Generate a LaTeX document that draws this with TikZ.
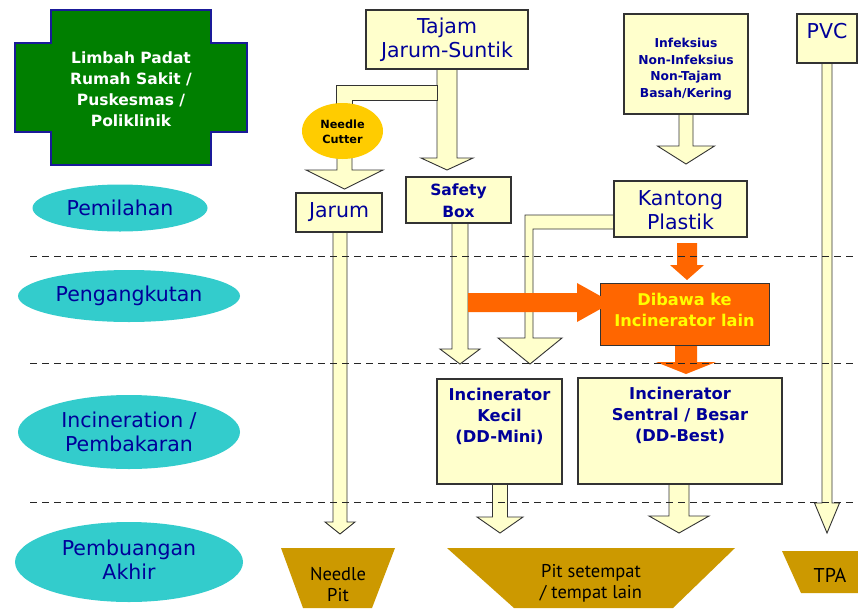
\documentclass[tikz,border=0pt]{standalone}
\usepackage{fontspec}
\setmainfont{DejaVu Sans}
\newfontfamily\narrowf{PT Sans}
\usetikzlibrary{shapes.geometric}
\definecolor{boxfill}{HTML}{FFFFCC}
\definecolor{navy}{HTML}{000099}
\definecolor{crossgreen}{HTML}{007F00}
\definecolor{crossline}{HTML}{1A1A99}
\definecolor{cyanell}{HTML}{33CCCC}
\definecolor{orng}{HTML}{FF6600}
\definecolor{gold}{HTML}{CC9900}
\definecolor{cutterc}{HTML}{FFCC00}
\definecolor{lineg}{HTML}{333333}
\definecolor{yel}{HTML}{FFFF00}
% [style]{xc}{ytop}{shaft half}{head half}{head base y}{tip y}
\newcommand\bdown[7][blk]{\filldraw[#1] (#2-#4,#3) -- (#2-#4,#6) -- (#2-#5,#6) -- (#2,#7) -- (#2+#5,#6) -- (#2+#4,#6) -- (#2+#4,#3) -- cycle;}
\begin{document}
\begin{tikzpicture}[x=1pt,y=-1pt,
  box/.style={draw=lineg, fill=boxfill, line width=1.2pt, inner sep=0pt},
  blk/.style={draw=lineg, fill=boxfill, line width=0.9pt, line join=miter},
  oarr/.style={fill=orng, draw=none},
  ell/.style={ellipse, fill=cyanell, draw=none, inner sep=0pt},
  lbl/.style={text=navy, align=center, inner sep=0pt, font=\fontsize{20.5}{24}\selectfont},
  inc/.style={text=navy, align=center, inner sep=0pt, font=\bfseries\fontsize{16.3}{21}\selectfont},
  bld/.style={text=navy, align=center, inner sep=0pt, font=\bfseries\fontsize{15.5}{22}\selectfont},
  sml/.style={text=navy, align=center, inner sep=0pt, font=\bfseries\fontsize{12.3}{16.6}\selectfont},
  trap/.style={text=black, align=center, inner sep=0pt, font=\narrowf\fontsize{18.5}{21}\selectfont},
  dline/.style={draw=black!85, line width=0.9pt, dash pattern=on 7pt off 5pt}]
\useasboundingbox (0,0) rectangle (858,608);
\fill[white] (0,0) rectangle (858,608);

% green cross
\filldraw[fill=crossgreen, draw=crossline, line width=2pt]
  (51,10) -- (211,10) -- (211,43) -- (247,43) -- (247,132) -- (211,132) -- (211,165)
  -- (51,165) -- (51,132) -- (15,132) -- (15,43) -- (51,43) -- cycle;
\node[text=white, align=center, inner sep=0pt, font=\bfseries\fontsize{15.5}{21}\selectfont]
  (limbah) at (131,89.5) {Limbah Padat\\Rumah Sakit /\\Puskesmas /\\Poliklinik};

% ellipses
\node[ell, minimum width=175, minimum height=47] (e1) at (120,208) {};
\node[lbl] at (e1) {Pemilahan};
\node[ell, minimum width=222, minimum height=52] (e2) at (129,296) {};
\node[lbl] at (e2) {Pengangkutan};
\node[ell, minimum width=222, minimum height=74] (e3) at (129,432) {};
\node[lbl] at (e3) {Incineration /\\Pembakaran};
\node[ell, minimum width=228, minimum height=80] (e4) at (129,562) {};
\node[lbl] at (129,560) {Pembuangan\\Akhir};

% block arrows (behind boxes)
\bdown{447}{65}{10}{26}{158}{170}
\filldraw[blk] (437,85) -- (336,85) -- (336,125) -- (352,125) -- (352,100) -- (437,100) -- cycle;
\bdown{344.5}{150}{7.5}{38.5}{170}{189}
\bdown{340}{228}{7}{15}{522}{534}
\bdown{460}{219}{8}{20}{349}{364}
\filldraw[blk] (618,215) -- (525,215) -- (525,338) -- (498,338) -- (530,364) -- (562,338)
  -- (533,338) -- (533,229) -- (618,229) -- cycle;
\bdown{686}{110}{7}{28.5}{146}{164}
\bdown{827}{59}{5}{12.5}{503}{533}
\bdown{500}{480}{7.5}{23}{517}{533}
\bdown{679}{480}{10}{30}{516}{533}

% boxes
\node[box, minimum width=162, minimum height=59] (tajam) at (447,39.5) {};
\node[lbl] at (447,40) {Tajam\\Jarum-Suntik};
\node[box, minimum width=124, minimum height=100] (infek) at (686,64) {};
\node[sml] at (686,69) {Infeksius\\Non-Infeksius\\Non-Tajam\\Basah/Kering};
\node[box, minimum width=60, minimum height=49] (pvc) at (827,38.5) {};
\node[lbl] at (827,31) {PVC};
\node[box, minimum width=105, minimum height=46] (safety) at (458.5,200) {};
\node[bld] at (458.5,201) {Safety\\Box};
\node[box, minimum width=86, minimum height=39] (jarum) at (339,212.5) {};
\node[lbl] at (339,212) {Jarum};
\node[box, minimum width=133, minimum height=56] (kantong) at (680.5,209) {};
\node[lbl] at (680.5,210) {Kantong\\Plastik};
\node[box, minimum width=125, minimum height=105] (kecil) at (499.5,431.5) {};
\node[inc] at (499.5,416) {Incinerator\\Kecil\\(DD-Mini)};
\node[box, minimum width=204, minimum height=106] (sentral) at (680,431) {};
\node[inc] at (680,415) {Incinerator\\Sentral / Besar\\(DD-Best)};

% needle cutter
\node[ellipse, fill=cutterc, minimum width=81, minimum height=56, inner sep=0pt] (cutter) at (342.5,131) {};
\node[text=black, align=center, inner sep=0pt, font=\bfseries\fontsize{11.3}{15}\selectfont] at (342.5,131.5) {Needle\\Cutter};

% orange part
\bdown[oarr]{687}{243}{10}{17}{265}{280}
\node[draw=lineg, fill=orng, line width=0.8pt, minimum width=169, minimum height=62, inner sep=0pt] (dibawa) at (684.5,314) {};
\node[text=yel, align=center, inner sep=0pt, font=\bfseries\fontsize{16.2}{21}\selectfont] at (684.5,310) {Dibawa ke\\Incinerator lain};
\fill[orng] (468,293) -- (577,293) -- (577,283) -- (612,302.5) -- (577,322) -- (577,312) -- (468,312) -- cycle;
\bdown[oarr]{686}{346}{11}{30}{362}{374}

% final disposal
\fill[gold] (281,548) -- (395,548) -- (372,608) -- (303,608) -- cycle;
\node[trap] (npit) at (338,585) {Needle\\Pit};
\fill[gold] (447,548) -- (735,548) -- (673,608) -- (514,608) -- cycle;
\node[trap] (pit) at (591,583) {Pit setempat\\/ tempat lain};
\fill[gold] (782,551) -- (858,551) -- (858,593) -- (801,593) -- cycle;
\node[trap, font=\narrowf\fontsize{20}{22}\selectfont] (tpa) at (830,575) {TPA};

% dashed separators
\draw[dline] (30,256) -- (858,256);
\draw[dline] (30,363) -- (858,363);
\draw[dline] (30,502) -- (858,502);
\end{tikzpicture}
\end{document}
